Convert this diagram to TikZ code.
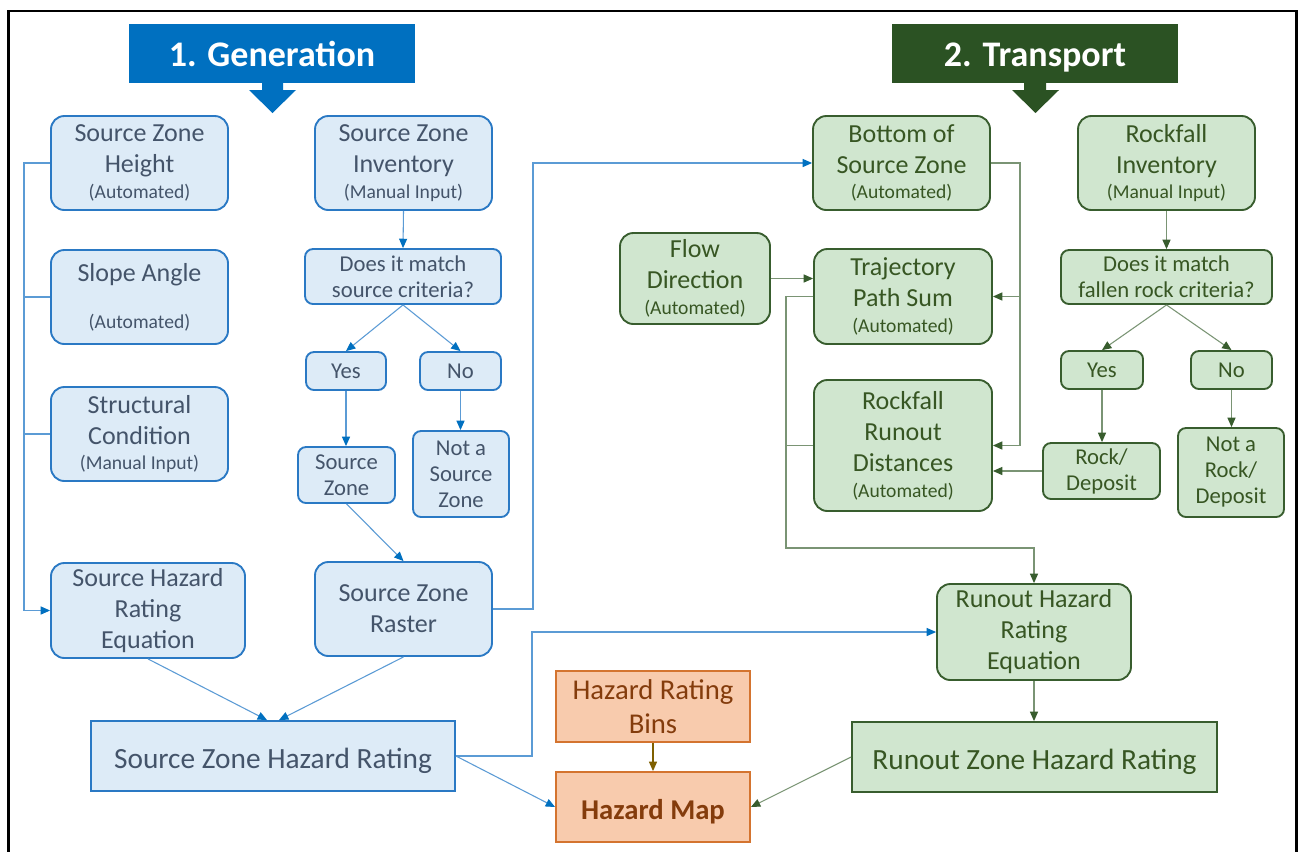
\documentclass[tikz,border=0pt]{standalone}
\usepackage{fontspec}
\setmainfont{Carlito}
\usetikzlibrary{arrows.meta}
\definecolor{bfill}{HTML}{DDEBF7}
\definecolor{bline}{HTML}{2A79C4}
\definecolor{btext}{HTML}{44546A}
\definecolor{bbanner}{HTML}{0070C0}
\definecolor{bconn}{HTML}{5B9BD5}
\definecolor{gfill}{HTML}{D0E6CF}
\definecolor{gline}{HTML}{385D2E}
\definecolor{gtext}{HTML}{375623}
\definecolor{gbanner}{HTML}{2B5223}
\definecolor{gconn}{HTML}{7A9474}
\definecolor{ofill}{HTML}{F8CBAD}
\definecolor{oline}{HTML}{D4742F}
\definecolor{otext}{HTML}{843C0C}
\definecolor{oconn}{HTML}{7F6000}
\newcommand\boxat[7]{%
  \node[#1, minimum width={(#5-#3)*0.75pt}, minimum height={(#6-#4)*0.75pt}] (#2) at ({(#3+#5)/2},{(#4+#6)/2}) {#7};}
\newcommand\sm[1]{\\[-4pt]{\fontsize{14.7}{16}\selectfont #1}}
\tikzset{
  x=0.75pt, y=-0.75pt,
  basebox/.style={align=center, inner sep=0pt, line width=1.4pt, font=\fontsize{19.5}{23.25}\selectfont},
  lower/.style={execute at begin node={\rule{0pt}{1em}}},
  bbox/.style={basebox, lower, draw=bline, fill=bfill, text=btext, rounded corners=10pt},
  bsmall/.style={basebox, draw=bline, fill=bfill, text=btext, rounded corners=6pt, font=\fontsize{17}{19.5}\selectfont},
  brect/.style={basebox, lower, draw=bline, fill=bfill, text=btext, font=\fontsize{22}{25}\selectfont},
  gbox/.style={basebox, lower, draw=gline, fill=gfill, text=gtext, rounded corners=10pt},
  gsmall/.style={basebox, draw=gline, fill=gfill, text=gtext, rounded corners=6pt, font=\fontsize{17}{19.5}\selectfont},
  grect/.style={basebox, lower, draw=gline, fill=gfill, text=gtext, font=\fontsize{22}{25}\selectfont},
  obox/.style={basebox, lower, draw=oline, fill=ofill, text=otext, font=\fontsize{21.5}{25.5}\selectfont},
  banner/.style={inner sep=0pt, anchor=base, text=white, font=\fontsize{27}{30}\selectfont\bfseries},
  barrow/.style={draw=bconn, line width=0.8pt, -{Triangle[length=7pt,width=6pt,color=bbanner]}},
  bline/.style={draw=bconn, line width=0.8pt},
  garrow/.style={draw=gconn, line width=0.8pt, -{Triangle[length=7pt,width=6pt,color=gline]}},
  gline/.style={draw=gconn, line width=0.8pt},
  oarrow/.style={draw=oconn, line width=0.8pt, -{Triangle[length=7pt,width=6pt,color=oconn]}},
}
\begin{document}
\begin{tikzpicture}
\useasboundingbox (0,0) rectangle (1299,851);
\fill[white] (0,0) rectangle (1299,851);
% frame
\draw[line width=2.2pt, black] (8.5,860) -- (8.5,11) -- (1296.5,11) -- (1296.5,860);
% banners
\fill[bbanner] (129,24) rectangle (415,83);
\fill[bbanner] (262,80) -- (283,80) -- (283,90) -- (296,90) -- (272.5,113) -- (249,90) -- (262,90) -- cycle;
\node[banner] (gen) at (272,66) {1. Generation};
\fill[gbanner] (892,24) rectangle (1178,83);
\fill[gbanner] (1024,80) -- (1046,80) -- (1046,90) -- (1059,90) -- (1035.5,113) -- (1012,90) -- (1024,90) -- cycle;
\node[banner] (tra) at (1035,66) {2. Transport};
% blue boxes
\boxat{bbox}{szh}{51}{116}{228}{210}{Source Zone\\Height\sm{(Automated)}}
\boxat{bbox}{slope}{51}{250}{228}{344}{Slope Angle\\[12pt]{\fontsize{14.7}{16}\selectfont (Automated)}}
\boxat{bbox}{struct}{51}{387}{228}{481}{Structural\\Condition\sm{(Manual Input)}}
\boxat{bbox}{shre}{51}{563}{245}{658}{Source Hazard\\Rating\\Equation}
\boxat{bbox}{szi}{315}{116}{492}{210}{Source Zone\\Inventory\sm{(Manual Input)}}
\boxat{bsmall}{q1}{305}{249}{501}{304}{Does it match\\source criteria?}
\boxat{bsmall}{yes1}{306}{352}{386}{390}{Yes}
\boxat{bsmall}{no1}{420}{352}{501}{390}{No}
\boxat{bsmall}{sz}{298}{447}{395}{503}{Source\\Zone}
\boxat{bsmall}{nsz}{413}{431}{509}{517}{Not a\\Source\\Zone}
\boxat{bbox}{raster}{315}{562}{492}{656}{Source Zone\\Raster}
\boxat{brect}{szhr}{91}{721}{455}{791}{Source Zone Hazard Rating}
% green boxes
\boxat{gbox}{bsz}{813}{116}{990}{210}{Bottom of\\Source Zone\sm{(Automated)}}
\boxat{gbox}{flow}{620}{233}{770}{324}{Flow\\Direction\sm{(Automated)}}
\boxat{gbox}{traj}{814}{249}{992}{344}{Trajectory\\Path Sum\sm{(Automated)}}
\boxat{gbox}{rrd}{814}{380}{992}{511}{Rockfall\\Runout\\Distances\sm{(Automated)}}
\boxat{gbox}{rinv}{1078}{116}{1255}{210}{Rockfall\\Inventory\sm{(Manual Input)}}
\boxat{gsmall}{q2}{1061}{250}{1272}{304}{Does it match\\fallen rock criteria?}
\boxat{gsmall}{yes2}{1061}{351}{1143}{389}{Yes}
\boxat{gsmall}{no2}{1191}{351}{1272}{389}{No}
\boxat{gsmall}{rock}{1043}{443}{1160}{499}{Rock/\\Deposit}
\boxat{gsmall}{nrock}{1178}{428}{1284}{517}{Not a\\Rock/\\Deposit}
\boxat{gbox}{rhre}{937}{584}{1131}{680}{Runout Hazard\\Rating\\Equation}
\boxat{grect}{rzhr}{852}{722}{1217}{792}{Runout Zone Hazard Rating}
% orange boxes
\boxat{obox}{bins}{556}{671}{750}{742}{Hazard Rating\\Bins}
\boxat{obox}{map}{556}{772}{750}{842}{\textbf{Hazard Map}}
% blue connectors
\coordinate (busT) at (24,163);
\coordinate (busB) at (24,610.5);
\draw[bline] (szh.west) -- (busT) -- (busB);
\draw[bline] (slope.west) -- (slope.west -| busT);
\draw[bline] (struct.west) -- (struct.west -| busT);
\draw[barrow] (busB) -- (shre.west);
\draw[barrow] (szi.south) -- (q1.north);
\draw[barrow] (q1.south) -- (yes1.north);
\draw[barrow] (q1.south) -- (no1.north);
\draw[barrow] (yes1.south) -- (yes1.south |- sz.north);
\draw[barrow] (no1.south) -- (no1.south |- nsz.north);
\draw[barrow] (sz.south) -- (raster.north);
\coordinate (j1) at (533,163);
\draw[barrow] (raster.east) -| (j1) -- (bsz.west);
\draw[barrow] (shre.south) -- ([xshift=-4.5pt]szhr.north);
\draw[barrow] (raster.south) -- ([xshift=4.5pt]szhr.north);
\coordinate (j2) at (532,632);
\draw[barrow] (szhr.east) -| (j2) -- (rhre.west);
\draw[barrow] (szhr.east) -- (map.west);
% green connectors
\coordinate (g1) at (1020,163);
\draw[garrow] (bsz.east) -- (g1) |- (rrd.east);
\draw[garrow] (g1 |- traj.east) -- (traj.east);
\draw[garrow] (flow.east) -- (flow.east -| traj.west);
\coordinate (g2) at (786,548);
\draw[garrow] (traj.west) -| (g2) -| (rhre.north);
\draw[gline] (rrd.west) -- (rrd.west -| g2);
\draw[garrow] (rinv.south) -- (q2.north);
\draw[garrow] (q2.south) -- (yes2.north);
\draw[garrow] (q2.south) -- (no2.north);
\draw[garrow] (yes2.south) -- (yes2.south |- rock.north);
\draw[garrow] (no2.south) -- (no2.south |- nrock.north);
\draw[garrow] (rock.west) -- (rock.west -| rrd.east);
\draw[garrow] (rhre.south) -- (rhre.south |- rzhr.north);
\draw[garrow] (rzhr.west) -- (map.east);
% orange connector
\draw[oarrow] (bins.south) -- (map.north);
\end{tikzpicture}
\end{document}
